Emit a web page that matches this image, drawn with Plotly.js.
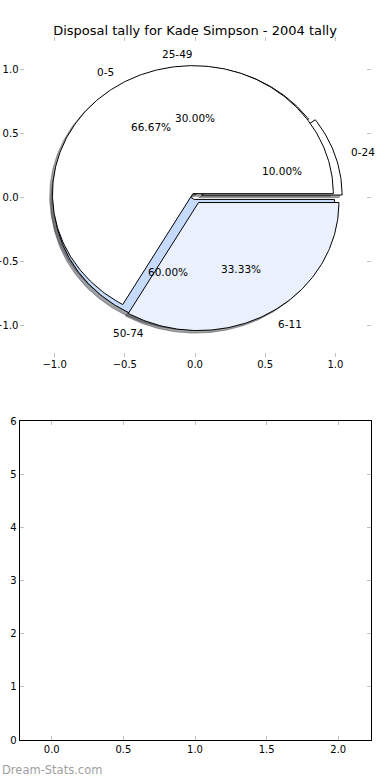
<!DOCTYPE html>
<html><head><meta charset="utf-8">
<script src="https://cdn.plot.ly/plotly-3.0.1.min.js"></script>
<style>html,body{margin:0;padding:0;background:#fff}#chart{width:390px;height:780px}</style>
</head><body><div id="chart"></div>
<script>
// ---- data ----
const titleText = 'Disposal tally for Kade Simpson - 2004 tally';
const outerLabels = ['0-24', '25-49', '50-74'];
const outerValues = [10, 30, 60];
const innerLabels = ['0-5', '6-11'];
const innerValues = [66.67, 33.33];
const pieTicks = [-1, -0.5, 0, 0.5, 1];
const lowerXTicks = [0, 0.5, 1, 1.5, 2];
const lowerYTicks = [0, 1, 2, 3, 4, 5, 6];
const watermark = 'Dream-Stats.com';

// ---- styles ----
const outerColors = ['#ffffff', '#ffffff', '#c6dafc'];
const innerColors = ['#ffffff', '#eaf0fc'];
const outerExplode = [0.05, 0.02, 0.02];
const innerExplode = [0.03, 0.05];
const shadowOffset = 0.02;
const FONT = 'DejaVu Sans, Liberation Sans, sans-serif';

function buildWedges(labels, values, colors, explode) {
  const total = values.reduce((a, b) => a + b, 0);
  let start = 0;
  return values.map((v, i) => {
    const sweep = 360 * v / total;
    const t1 = start, t2 = start + sweep;
    start = t2;
    const mid = (t1 + t2) / 2 * Math.PI / 180;
    const cx = explode[i] * Math.cos(mid), cy = explode[i] * Math.sin(mid);
    return {label: labels[i], pct: 100 * v / total, t1, t2, mid, cx, cy, color: colors[i]};
  });
}

function wedgePath(w, dx, dy) {
  const xs = [w.cx + dx], ys = [w.cy + dy];
  const n = Math.max(2, Math.ceil(w.t2 - w.t1));
  for (let k = 0; k <= n; k++) {
    const a = (w.t1 + (w.t2 - w.t1) * k / n) * Math.PI / 180;
    xs.push(w.cx + dx + Math.cos(a));
    ys.push(w.cy + dy + Math.sin(a));
  }
  xs.push(w.cx + dx); ys.push(w.cy + dy);
  return {xs, ys};
}

function shade(hex) {
  const r = parseInt(hex.substr(1, 2), 16), g = parseInt(hex.substr(3, 2), 16), b = parseInt(hex.substr(5, 2), 16);
  return `rgba(${Math.round(r * 0.3)},${Math.round(g * 0.3)},${Math.round(b * 0.3)},0.5)`;
}

const outer = buildWedges(outerLabels, outerValues, outerColors, outerExplode);
const inner = buildWedges(innerLabels, innerValues, innerColors, innerExplode);
const all = outer.concat(inner);

const traces = [];
all.forEach(w => {
  const p = wedgePath(w, -shadowOffset, -shadowOffset);
  const c = shade(w.color);
  traces.push({type: 'scatter', mode: 'lines', x: p.xs, y: p.ys, fill: 'toself', fillcolor: c,
    line: {color: c, width: 1}, hoverinfo: 'skip', xaxis: 'x', yaxis: 'y'});
});
all.forEach(w => {
  const p = wedgePath(w, 0, 0);
  traces.push({type: 'scatter', mode: 'lines', x: p.xs, y: p.ys, fill: 'toself', fillcolor: w.color,
    line: {color: '#000000', width: 1}, hoverinfo: 'skip', xaxis: 'x', yaxis: 'y'});
});
traces.push({type: 'scatter', mode: 'markers', x: [], y: [], xaxis: 'x2', yaxis: 'y2', hoverinfo: 'skip'});

const annotations = [];
all.forEach(w => {
  const lx = w.cx + 1.1 * Math.cos(w.mid), ly = w.cy + 1.1 * Math.sin(w.mid);
  annotations.push({xref: 'x', yref: 'y', x: lx, y: ly, text: w.label, showarrow: false,
    xanchor: lx > 0.001 ? 'left' : 'right', yanchor: 'middle', font: {family: FONT, size: 10.5, color: '#000'}});
  const px = w.cx + 0.6 * Math.cos(w.mid), py = w.cy + 0.6 * Math.sin(w.mid);
  annotations.push({xref: 'x', yref: 'y', x: px, y: py, text: w.pct.toFixed(2) + '%', showarrow: false,
    xanchor: 'center', yanchor: 'middle', font: {family: FONT, size: 10.5, color: '#000'}});
});
annotations.push({xref: 'paper', yref: 'paper', x: 0, y: 1 - 770 / 780, xanchor: 'left', yanchor: 'middle',
  text: watermark, showarrow: false, font: {family: FONT, size: 11.5, color: '#a0a0a0'}});

const tickStyle = {ticks: 'inside', ticklen: 4, tickwidth: 1, tickcolor: '#c0c0c0', showgrid: false, zeroline: false,
  tickfont: {family: FONT, size: 10, color: '#000'}, fixedrange: true};
const xDom = [19.5 / 390, 370.5 / 390];

const layout = {
  width: 390, height: 780, margin: {l: 0, r: 0, t: 0, b: 0},
  paper_bgcolor: '#ffffff', plot_bgcolor: 'rgba(0,0,0,0)', showlegend: false,
  font: {family: FONT, size: 10, color: '#000'},
  title: {text: titleText, x: 0.5, xanchor: 'center', y: 1 - 30 / 780, yanchor: 'middle',
    font: {family: FONT, size: 13, color: '#000'}},
  xaxis: Object.assign({}, tickStyle, {domain: xDom, range: [-1.25, 1.25], tickvals: pieTicks, tickformat: '.1f',
    showline: false, mirror: 'ticks', anchor: 'y'}),
  yaxis: Object.assign({}, tickStyle, {domain: [1 - 357 / 780, 1 - 37 / 780], range: [-1.25, 1.25], tickvals: pieTicks,
    tickformat: '.1f', showline: false, mirror: 'ticks', anchor: 'x'}),
  xaxis2: Object.assign({}, tickStyle, {domain: xDom, range: [-0.225, 2.225], tickvals: lowerXTicks, tickformat: '.1f',
    showline: true, linecolor: '#000', linewidth: 1, mirror: 'ticks', anchor: 'y2'}),
  yaxis2: Object.assign({}, tickStyle, {domain: [1 - 740 / 780, 1 - 421 / 780], range: [0, 6], tickvals: lowerYTicks,
    tickformat: 'd', showline: true, linecolor: '#000', linewidth: 1, mirror: 'ticks', anchor: 'x2'}),
  annotations
};

Plotly.newPlot('chart', traces, layout, {displayModeBar: false, staticPlot: true});
</script></body></html>
